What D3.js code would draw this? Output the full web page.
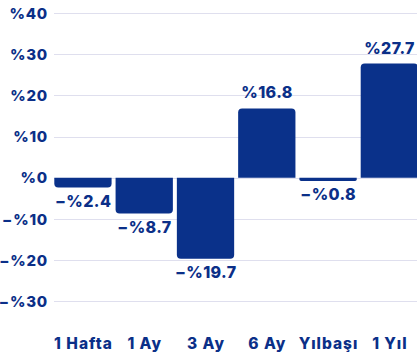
<!DOCTYPE html>
<html>
<head>
<meta charset="utf-8">
<script src="https://cdn.jsdelivr.net/npm/d3@7"></script>
<style>
  html, body { margin: 0; padding: 0; background: #ffffff; }
  svg { display: block; }
  text { font-family: Inter, "Noto Sans", sans-serif; font-weight: 800; fill: #0b2f88; }
</style>
</head>
<body>
<svg id="chart" width="417" height="363"></svg>
<script>
// Return by period
const categories = ["1 Hafta", "1 Ay", "3 Ay", "6 Ay", "Yılbaşı", "1 Yıl"];
const values = [-2.4, -8.7, -19.7, 16.8, -0.8, 27.7];
const yTicks = [-30, -20, -10, 0, 10, 20, 30, 40];

const barColor = "#0a318a";
const gridColor = "#dfdfee";

const svg = d3.select("#chart");

const x = d3.scaleBand()
  .domain(categories)
  .range([54.3, 418])
  .paddingInner(0.065)
  .paddingOuter(0);

const y = d3.scaleLinear()
  .domain([-30, 40])
  .range([301.3, 12.9]);

const pct = v => (v < 0 ? "\u2212" : "") + "%" + d3.format("~f")(Math.abs(v));

// Gridlines and tick labels
const yAxis = d3.axisLeft(y)
  .tickValues(yTicks)
  .tickSize(0)
  .tickPadding(0)
  .tickFormat(pct);

const axisG = svg.append("g")
  .attr("transform", "translate(48,0)")
  .call(yAxis);
axisG.select(".domain").remove();
axisG.selectAll("text")
  .attr("font-size", 15)
  .attr("font-family", null)
  .attr("fill", null)
  .attr("letter-spacing", 0.8)
  .attr("dy", "0.35em");

svg.append("g")
  .selectAll("line")
  .data(yTicks)
  .join("line")
  .attr("x1", 54)
  .attr("x2", 417)
  .attr("y1", d => Math.round(y(d)) + 0.5)
  .attr("y2", d => Math.round(y(d)) + 0.5)
  .attr("stroke", gridColor)
  .attr("stroke-width", 1);

// Bars with rounded outer corners
function barPath(x0, w, y0, y1) {
  const h = Math.abs(y1 - y0);
  const r = Math.min(4, h / 2, w / 2);
  if (y1 < y0) {
    // positive: round the top
    return `M${x0},${y0}V${y1 + r}Q${x0},${y1} ${x0 + r},${y1}H${x0 + w - r}Q${x0 + w},${y1} ${x0 + w},${y1 + r}V${y0}Z`;
  }
  // negative: round the bottom
  return `M${x0},${y0}V${y1 - r}Q${x0},${y1} ${x0 + r},${y1}H${x0 + w - r}Q${x0 + w},${y1} ${x0 + w},${y1 - r}V${y0}Z`;
}

svg.append("g")
  .selectAll("path")
  .data(values)
  .join("path")
  .attr("d", (d, i) => barPath(x(categories[i]), x.bandwidth(), y(0), y(d)))
  .attr("fill", barColor);

// Value labels
svg.append("g")
  .selectAll("text")
  .data(values)
  .join("text")
  .attr("x", (d, i) => x(categories[i]) + x.bandwidth() / 2 + 0.2)
  .attr("y", d => d >= 0 ? y(d) - 10 : y(d) + 19.5)
  .attr("text-anchor", "middle")
  .attr("font-size", 16)
  .attr("letter-spacing", 0.4)
  .text(pct);

// Category labels
svg.append("g")
  .selectAll("text")
  .data(categories)
  .join("text")
  .attr("x", d => x(d) + x.bandwidth() / 2 + 0.5)
  .attr("y", 348.5)
  .attr("text-anchor", "middle")
  .attr("font-size", 15.5)
  .attr("letter-spacing", 1)
  .text(d => d);
</script>
</body>
</html>
